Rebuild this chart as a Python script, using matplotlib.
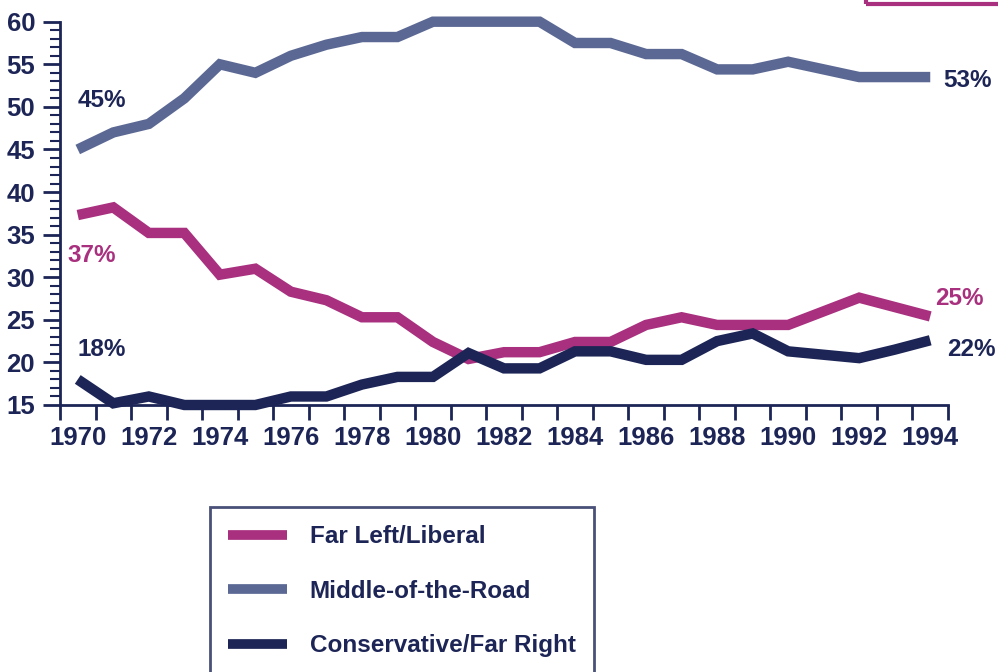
import numpy as np
import matplotlib.pyplot as plt
from matplotlib.lines import Line2D
from matplotlib.patches import Rectangle

plt.rcParams['font.family'] = ['Liberation Sans', 'DejaVu Sans']

years = list(range(1970, 1995))
middle = [45, 47, 48, 51, 55, 54, 56, 57.3, 58.2, 58.2, 60, 60, 60, 60,
          57.5, 57.5, 56.2, 56.2, 54.4, 54.4, 55.3, 54.4, 53.5, 53.5, 53.5]
liberal = [37.3, 38.2, 35.2, 35.2, 30.3, 31, 28.3, 27.3, 25.3, 25.3, 22.4, 20.4,
           21.2, 21.2, 22.4, 22.4, 24.4, 25.3, 24.4, 24.4, 24.4, 26, 27.6, 26.5, 25.4]
conservative = [18, 15.2, 16, 15, 15, 15, 16, 16, 17.4, 18.3, 18.3, 21.1,
                19.3, 19.3, 21.3, 21.3, 20.3, 20.3, 22.5, 23.4, 21.3, 20.9, 20.5, 21.5, 22.6]
series_names = ['Far Left/Liberal', 'Middle-of-the-Road', 'Conservative/Far Right']
end_labels = [('37%', '25%'), ('45%', '53%'), ('18%', '22%')]

navy = '#1c2556'
colors = ['#a8307f', '#5b6893', navy]

fig = plt.figure(figsize=(9.98, 6.72), dpi=100)
ax = fig.add_axes([60/998, 1-405/672, (948-60)/998, (405-21.7)/672])

lw = 7.5
for vals, c in zip([liberal, middle, conservative], colors):
    ax.plot(years, vals, color=c, lw=lw, solid_joinstyle='miter',
            solid_capstyle='butt', clip_on=False, zorder=3)

ax.set_xlim(1969.5, 1994.5)
ax.set_ylim(15, 60)

for s in ['top', 'right']:
    ax.spines[s].set_visible(False)
for s in ['left', 'bottom']:
    ax.spines[s].set_color(navy)
    ax.spines[s].set_linewidth(2)

ax.set_yticks(range(15, 61, 5))
ax.set_yticks(range(15, 61), minor=True)
ax.tick_params(axis='y', which='major', length=12, width=2, color=navy,
               labelcolor=navy, labelsize=18.5, pad=6)
ax.tick_params(axis='y', which='minor', length=7, width=1.5, color=navy)
for t in ax.get_yticklabels():
    t.set_fontweight('bold')

ax.set_xticks(range(1970, 1995, 2))
ax.set_xticks(np.arange(1969.5, 1995, 1), minor=True)
ax.tick_params(axis='x', which='major', length=0, labelcolor=navy,
               labelsize=18.5, pad=15)
ax.tick_params(axis='x', which='minor', length=11, width=2, color=navy)
for t in ax.get_xticklabels():
    t.set_fontweight('bold')

# percentage labels at start and end
lab_colors = [colors[0], navy, navy]
start_pos = [(1969.72, 32.6), (1970.0, 50.8), (1970.0, 21.5)]
end_pos = [(1994.13, 27.5), (1994.36, 53.1), (1994.47, 21.5)]
for (s, e), c, sp, ep in zip(end_labels, lab_colors, start_pos, end_pos):
    ax.text(sp[0], sp[1], s, color=c, fontsize=17.5, fontweight='bold',
            ha='left', va='center')
    ax.text(ep[0], ep[1], e, color=c, fontsize=17.5, fontweight='bold',
            ha='left', va='center', clip_on=False)

handles = [Line2D([], [], color=c, lw=7, solid_capstyle='butt') for c in colors]
leg = fig.legend(handles, series_names, loc='upper left',
                 bbox_to_anchor=(210/998, 1-507/672), frameon=True,
                 fancybox=False, borderpad=0.75, handlelength=2.4,
                 handletextpad=0.95, labelspacing=1.3, borderaxespad=0,
                 prop={'size': 17.5, 'weight': 'bold'})
leg.get_frame().set_edgecolor(navy)
leg.get_frame().set_linewidth(2)
for t in leg.get_texts():
    t.set_color(navy)

# fragment of a box at the top right edge
fig.patches.append(Rectangle((866/998, 1-4/672), 0.2, 0.05, transform=fig.transFigure,
                             fill=False, edgecolor=colors[0], lw=3))

fig.savefig('out.png', dpi=100)
